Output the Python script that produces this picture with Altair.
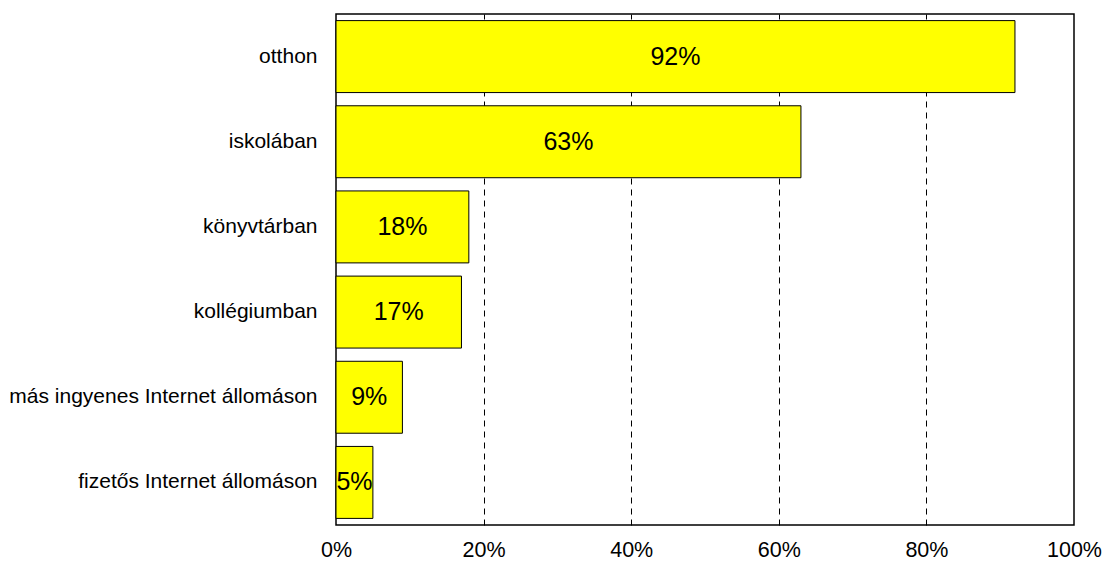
import altair as alt
import pandas as pd

categories = ["otthon", "iskolában", "könyvtárban", "kollégiumban",
              "más ingyenes Internet állomáson", "fizetős Internet állomáson"]
values = [92, 63, 18, 17, 9, 5]
tick_values = [0, 20, 40, 60, 80, 100]

df = pd.DataFrame({"cat": categories, "val": values})
df["label"] = df["val"].astype(str) + "%"

FONT = "Liberation Sans"

y_enc = alt.Y("cat:N", sort=categories,
              scale=alt.Scale(paddingInner=0.155, paddingOuter=0.0775),
              axis=alt.Axis(title=None, ticks=False, domain=False, labelPadding=19,
                            labelFont=FONT, labelFontSize=21, labelColor="black",
                            labelLimit=400))

bars = alt.Chart(df).mark_bar(color="#FFFF00", stroke="black", strokeWidth=1).encode(
    x=alt.X("val:Q", scale=alt.Scale(domain=[0, 100], nice=False),
            axis=alt.Axis(title=None, values=tick_values, ticks=False, domain=False,
                          labelExpr="datum.value + '%'", labelFont=FONT,
                          labelFontSize=21.5, labelColor="black", labelPadding=14,
                          labelFlush=False, labelOverlap=False,
                          grid=True, gridColor="black", gridDash=[6, 5],
                          gridWidth=1,
                          gridOpacity={"condition": {"test": "datum.value == 0 || datum.value == 100",
                                                     "value": 0}, "value": 1})),
    y=y_enc,
)

text = alt.Chart(df).transform_calculate(mid="datum.val / 2").mark_text(
    font=FONT, fontSize=25, color="black", baseline="middle", align="center"
).encode(
    x=alt.X("mid:Q"),
    y=alt.Y("cat:N", sort=categories),
    text="label:N",
)

chart = (bars + text).properties(
    width=738, height=511,
    background="white",
    autosize=alt.AutoSizeParams(type="none"),
    padding={"left": 328, "top": 6, "right": 28, "bottom": 43},
).configure_view(stroke="black", strokeWidth=1.5)

chart.save("out.html", embed_options={"renderer": "svg", "actions": False})
